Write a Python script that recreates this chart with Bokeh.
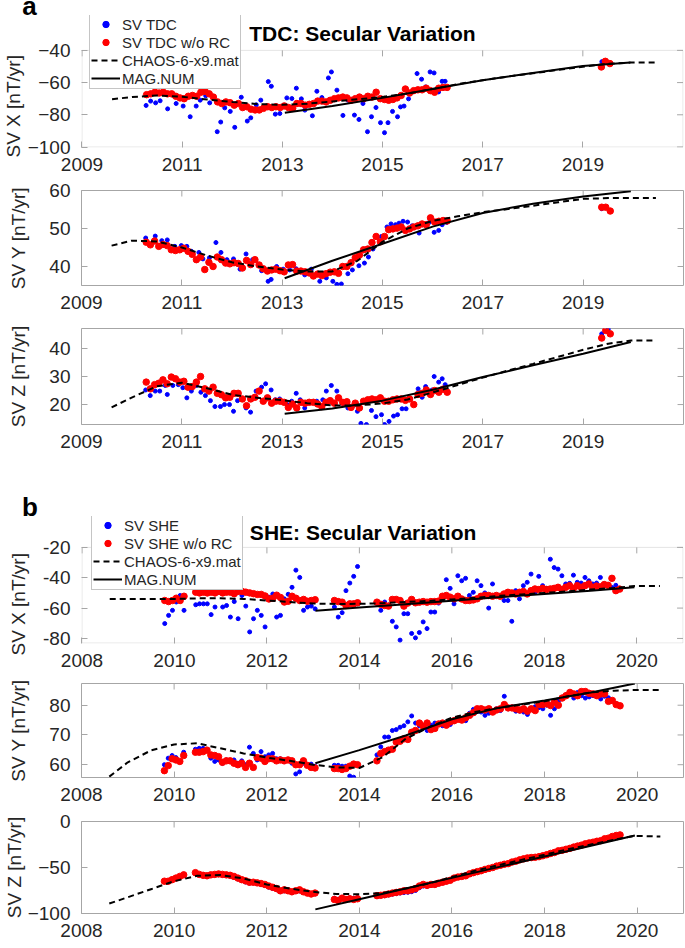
import numpy as np
from bokeh.plotting import figure
from bokeh.models import (Range1d, FixedTicker, LinearAxis, Legend, LegendItem, Label,
                          BoxAnnotation, Title)
from bokeh.layouts import column
from bokeh.embed import file_html
from bokeh.resources import INLINE

FONT = "Liberation Sans"
GRAY = "#a6a6a6"
TXT = "#262626"
W = 684
LEFT = 76
RIGHT = 1
FRAME_W = W - LEFT - RIGHT
NB = "\u00a0"


def months(start, n):
    return [round(start + k / 12.0, 3) for k in range(n)]

# ======================= TDC (panel a) =======================
tdc_xticks = [2009, 2011, 2013, 2015, 2017, 2019]
tdc_red_t = months(2010.29, 73) + [2019.37, 2019.45, 2019.54]

tdc_x_red = [-67.5, -67.0, -66.0, -66.5, -66.0, -67.0, -67.0, -68.5, -69.5, -70.0, -68.5, -68.0,
             -68.5, -66.0, -65.5, -67.0, -69.0, -72.0, -73.0, -72.0, -72.5, -74.0, -73.0, -75.5,
             -75.0, -76.5, -77.0, -77.0, -76.0, -75.0, -75.5, -75.0, -75.5, -74.5, -75.5, -76.0,
             -73.0, -73.0, -74.0, -73.5, -73.0, -71.5, -71.5, -72.0, -71.0, -70.0, -69.5, -69.0,
             -69.5, -71.0, -70.0, -69.0, -70.0, -68.5, -69.0, -66.0, -70.0, -70.5, -71.0, -70.5,
             -69.5, -68.0, -64.0, -66.5, -65.0, -64.5, -64.5, -63.5, -65.0, -66.0, -63.5, -63.0,
             -63.0, -50.3, -46.8, -48.2]
tdc_y_red = [46.4, 45.7, 46.7, 45.3, 45.8, 45.5, 44.4, 44.2, 44.4, 44.8, 44.0, 43.2,
             41.8, 42.5, 39.2, 41.1, 40.0, 42.5, 41.8, 40.9, 40.7, 41.0, 40.8, 39.6,
             41.6, 40.5, 41.8, 40.4, 39.4, 38.8, 39.1, 39.3, 38.9, 38.6, 40.4, 40.5,
             38.8, 38.8, 38.6, 38.3, 37.5, 38.0, 37.6, 38.1, 38.5, 38.6, 38.2, 40.0,
             40.0, 41.0, 42.3, 43.0, 44.4, 44.6, 46.3, 47.9, 46.5, 47.9, 49.7, 49.9,
             50.1, 50.4, 49.5, 49.9, 50.4, 50.7, 51.2, 51.0, 52.8, 51.7, 51.9, 52.1,
             52.0, 55.6, 55.6, 54.6]
tdc_z_red = [28.0, 25.6, 27.1, 27.6, 28.8, 27.4, 29.8, 29.2, 28.0, 28.3, 26.2, 26.4,
             28.0, 30.0, 25.6, 24.8, 26.2, 24.0, 23.5, 22.4, 22.6, 24.0, 24.0, 22.0,
             19.6, 22.0, 22.6, 24.8, 21.2, 22.4, 20.5, 21.2, 21.2, 20.8, 19.0, 20.2,
             18.8, 20.8, 20.5, 20.8, 20.8, 20.2, 19.3, 20.8, 21.4, 20.5, 22.4, 20.8,
             21.0, 19.0, 20.5, 18.8, 21.2, 21.7, 22.0, 21.7, 22.4, 21.2, 21.2, 21.7,
             22.0, 22.0, 21.5, 22.0, 20.0, 23.6, 24.0, 25.2, 23.6, 25.0, 24.4, 25.5,
             24.4, 43.7, 46.4, 45.2]

tdc_x_blue_t = [2010.28, 2010.37, 2010.47, 2010.56, 2010.71, 2010.88, 2011.02, 2011.16, 2011.28, 2011.36,
                2011.47, 2011.55, 2011.70, 2011.77, 2011.85, 2011.96, 2012.05, 2012.18, 2012.30, 2012.37,
                2012.48, 2012.57, 2012.72, 2012.78, 2012.86, 2012.95, 2013.09, 2013.19, 2013.28, 2013.38,
                2013.45, 2013.60, 2013.69, 2013.79, 2013.92, 2013.98, 2014.09, 2014.21, 2014.31, 2014.44,
                2014.53, 2014.61, 2014.70, 2014.78, 2014.87, 2014.96, 2015.04, 2015.11, 2015.20, 2015.30,
                2015.36, 2015.43, 2015.52, 2015.69, 2015.78, 2015.86, 2015.95, 2016.03, 2016.12, 2016.19,
                2016.25, 2019.38]
tdc_x_blue = [-74.2, -71.5, -72.6, -71.3, -76.3, -73.0, -74.6, -81.2, -74.6, -70.9,
              -68.2, -72.6, -90.5, -84.5, -75.7, -77.9, -87.8, -69.1, -83.9, -81.9,
              -73.8, -70.9, -59.4, -62.3, -79.6, -79.2, -69.5, -69.9, -63.5, -70.1,
              -77.1, -80.6, -65.4, -69.3, -57.1, -53.4, -64.7, -80.4, -70.9, -80.2,
              -82.9, -73.0, -90.5, -81.2, -75.5, -84.9, -91.1, -84.9, -77.9, -81.2,
              -75.1, -74.6, -70.1, -54.4, -57.9, -62.7, -53.4, -54.0, -65.8, -59.2,
              -59.2, -47.0]
tdc_y_blue_t = [2010.28, 2010.47, 2010.60, 2010.71, 2010.86, 2010.99, 2011.10, 2011.19, 2011.34, 2011.42,
                2011.55, 2011.68, 2011.78, 2011.90, 2012.03, 2012.16, 2012.28, 2012.41, 2012.59, 2012.72,
                2012.78, 2012.89, 2013.02, 2013.15, 2013.28, 2013.45, 2013.58, 2013.75, 2013.88, 2014.01,
                2014.09, 2014.18, 2014.31, 2014.40, 2014.53, 2014.64, 2014.72, 2014.81, 2014.90, 2014.98,
                2015.09, 2015.17, 2015.26, 2015.33, 2015.41, 2015.50, 2015.59, 2015.67, 2015.73, 2015.84,
                2015.93, 2016.03, 2016.12, 2016.19, 2016.28, 2019.37]
tdc_y_blue = [47.5, 48.0, 46.8, 47.0, 45.3, 45.5, 45.3, 44.0, 43.7, 42.0,
              42.3, 46.3, 43.7, 41.8, 42.0, 39.3, 43.3, 41.8, 38.9, 36.1,
              36.6, 40.0, 39.3, 39.1, 39.4, 37.8, 39.3, 36.1, 37.0, 36.1,
              35.3, 35.4, 38.1, 39.1, 40.2, 40.9, 42.5, 44.6, 47.7, 47.9,
              50.4, 51.2, 51.0, 51.4, 51.9, 51.7, 50.7, 50.5, 48.8, 51.0,
              51.6, 49.0, 49.5, 51.0, 51.6, 55.2]
tdc_z_blue_t = [2010.28, 2010.37, 2010.47, 2010.56, 2010.67, 2010.71, 2010.82, 2010.93, 2011.02, 2011.10,
                2011.19, 2011.29, 2011.38, 2011.47, 2011.57, 2011.66, 2011.77, 2011.85, 2011.95, 2012.03,
                2012.11, 2012.20, 2012.28, 2012.37, 2012.48, 2012.59, 2012.67, 2012.78, 2012.86, 2012.95,
                2013.09, 2013.19, 2013.28, 2013.36, 2013.45, 2013.58, 2013.69, 2013.81, 2013.88, 2013.98,
                2014.09, 2014.22, 2014.31, 2014.40, 2014.50, 2014.57, 2014.68, 2014.78, 2014.87, 2014.98,
                2015.04, 2015.13, 2015.22, 2015.30, 2015.39, 2015.47, 2015.56, 2015.71, 2015.79, 2015.86,
                2015.99, 2016.03, 2016.12, 2016.19, 2016.25, 2019.37, 2019.50]
tdc_z_blue = [25.2, 23.2, 24.8, 24.8, 26.8, 23.6, 26.8, 27.1, 26.0, 22.4,
              24.8, 26.8, 24.4, 23.2, 21.4, 19.3, 19.3, 20.0, 20.0, 17.6,
              21.4, 22.0, 18.8, 17.3, 24.8, 26.2, 27.4, 25.2, 21.7, 22.0,
              20.2, 21.2, 24.0, 21.7, 18.8, 20.8, 21.2, 21.7, 24.8, 26.8,
              24.8, 20.2, 18.8, 19.3, 17.6, 13.3, 12.9, 17.9, 15.7, 16.4,
              12.9, 14.0, 15.9, 16.4, 18.5, 18.5, 22.0, 25.6, 22.6, 26.4,
              25.2, 30.0, 28.0, 29.2, 27.1, 45.2, 46.9]

tdc_chaos_t = [2009.6, 2010.0, 2010.5, 2011.0, 2011.5, 2012.0, 2012.5, 2013.0, 2013.5, 2014.0, 2014.5,
               2015.0, 2015.5, 2016.0, 2016.5, 2017.0, 2017.5, 2018.0, 2018.5, 2019.0, 2019.5, 2019.95, 2020.45]
tdc_chaos_x = [-70.3, -69.0, -68.0, -68.8, -70.5, -72.0, -73.3, -73.8, -73.1, -71.7, -70.4,
               -68.9, -66.8, -64.0, -61.0, -58.5, -56.3, -54.2, -52.2, -50.2, -48.3, -47.6, -47.6]
tdc_chaos_y = [45.5, 46.8, 46.6, 45.0, 42.9, 41.1, 40.0, 39.2, 38.7, 38.7, 41.5,
               46.5, 50.0, 52.0, 53.2, 54.3, 55.1, 56.0, 56.9, 57.8, 58.0, 58.0, 58.0]
tdc_chaos_z = [19.0, 22.5, 26.5, 27.8, 25.8, 23.5, 22.4, 21.6, 20.5, 19.7, 19.7,
               20.4, 21.8, 24.3, 27.0, 29.6, 32.1, 34.5, 37.0, 39.5, 41.7, 42.8, 42.8]

tdc_mag_t = [2013.05, 2014.0, 2015.0, 2016.0, 2017.0, 2018.0, 2019.0, 2019.95]
tdc_mag_x = [-78.8, -74.5, -69.5, -64.0, -58.6, -54.0, -49.7, -47.6]
tdc_mag_y = [36.9, 41.5, 46.0, 50.5, 54.1, 56.5, 58.4, 59.8]
tdc_mag_z = [16.7, 18.6, 21.4, 25.3, 29.8, 34.0, 38.1, 42.3]

# ======================= SHE (panel b) =======================
she_xticks = [2008, 2010, 2012, 2014, 2016, 2018, 2020]
she_t = months(2009.79, 6) + months(2010.46, 32) + months(2013.46, 7) + months(2014.38, 64)

she_x_red = ([-55.0, -55.7, -55.0, -53.5, -55.0, -52.2]
             + [-49.5, -50.0, -49.5, -50.0, -49.5, -50.0, -49.0, -50.0, -49.5, -49.5, -50.5, -49.0,
                -49.0, -49.5, -50.0, -50.5, -51.0, -51.0, -52.0, -54.0, -53.5, -51.5, -53.0, -56.0,
                -55.5, -52.2, -53.5, -55.0, -54.3, -55.5, -55.0, -54.5]
             + [-55.0, -55.7, -56.1, -58.3, -57.2, -57.2, -56.5]
             + [-56.1, -57.5, -58.3, -58.7, -54.3, -54.3, -55.0, -58.7,
                -56.7, -54.3, -56.5, -56.1, -55.7, -56.1, -55.7, -55.7, -55.4, -52.2, -51.7, -52.8,
                -53.9, -52.2, -54.0, -55.0, -55.0, -54.6, -53.9, -52.2, -51.7, -51.7, -52.2, -51.7,
                -52.2, -50.7, -49.6, -50.0, -50.7, -49.6, -49.1, -50.7, -48.5, -47.4, -47.8, -47.0,
                -47.8, -47.4, -47.0, -46.3, -47.8, -46.3, -45.2, -47.0, -45.2, -46.3, -45.2, -44.1,
                -46.3, -45.5, -46.0, -44.5, -45.0, -40.4, -48.5, -47.5])
she_x_blue = ([-70.2, -64.8, -61.5, -56.0, -51.7, -61.5]
              + [-57.8, -57.2, -57.2, -57.2, -64.3, -59.3, -49.5, -59.3, -58.3, -65.9, -55.7, -67.0,
                 -51.7, -58.7, -75.7, -67.0, -61.5, -64.8, -72.4, -52.8, -50.7, -65.9, -64.8, -53.9,
                 -50.9, -46.3, -35.0, -39.8, -61.5, -59.3, -58.7, -60.5]
              + [-59.3, -65.9, -63.0, -48.5, -43.5, -39.1, -32.6]
              + [-56.7, -61.5, -56.0, -58.0, -68.7, -72.4, -81.1, -63.7,
                 -63.7, -76.7, -79.6, -76.1, -69.1, -73.5, -62.6, -62.6, -56.7, -53.9, -41.3, -47.0,
                 -57.2, -38.7, -42.0, -40.4, -51.7, -49.6, -42.0, -45.2, -50.0, -60.0, -44.1, -51.7,
                 -51.7, -55.0, -55.0, -68.7, -48.5, -53.9, -45.2, -43.0, -37.6, -49.6, -39.1, -45.2,
                 -47.0, -27.8, -33.3, -34.3, -38.7, -44.1, -43.7, -38.3, -43.0, -43.5, -39.8, -42.0,
                 -44.1, -43.5, -39.8, -44.1, -45.2, -46.5, -45.0, -47.0])

she_y_red = ([58.0, 59.7, 62.0, 61.6, 61.1, 63.1]
             + [64.2, 64.2, 64.4, 64.9, 63.3, 63.1, 62.7, 60.8, 61.3, 61.3, 60.5, 60.0,
                60.5, 59.1, 60.5, 59.1, 62.4, 62.2, 61.1, 62.0, 62.0, 61.3, 61.6, 61.3,
                61.6, 61.3, 60.0, 60.0, 61.3, 59.8, 59.1, 58.9]
             + [58.7, 58.7, 58.4, 58.7, 59.5, 60.2, 60.0]
             + [61.3, 63.8, 64.4, 64.9, 65.2, 67.6, 67.9, 68.7,
                68.5, 70.9, 71.5, 74.0, 72.9, 74.0, 71.8, 72.2, 73.7, 74.0, 73.3, 74.4,
                74.8, 75.3, 75.0, 75.8, 76.6, 77.5, 78.8, 78.8, 78.4, 78.8, 77.7, 78.4,
                78.8, 80.2, 79.1, 79.1, 78.8, 78.4, 78.8, 78.0, 78.8, 78.2, 80.2, 80.2,
                80.5, 79.9, 81.0, 80.0, 82.4, 83.2, 84.3, 83.8, 83.2, 84.6, 84.6, 84.0,
                83.8, 83.2, 83.8, 83.8, 81.3, 81.6, 80.2, 79.8])
she_y_blue = ([60.0, 62.2, 63.1, 62.4, 61.1, 64.2]
              + [65.2, 65.5, 65.5, 64.9, 62.2, 61.1, 61.6, 60.5, 61.6, 61.1, 61.6, 60.5,
                 61.3, 60.0, 65.9, 63.8, 61.6, 64.4, 62.7, 63.3, 63.8, 62.0, 62.0, 61.1,
                 61.5, 60.5, 56.9, 57.6, 60.5, 59.8, 60.2, 59.5]
              + [59.8, 59.8, 59.5, 59.5, 56.2, 55.8, 60.0]
              + [63.3, 66.0, 69.3, 69.3, 71.5, 71.8, 72.6, 73.1,
                 74.4, 76.4, 74.0, 73.1, 72.9, 71.5, 73.3, 74.0, 73.7, 73.1, 74.0, 73.5,
                 74.5, 75.5, 75.3, 74.8, 77.3, 78.6, 78.0, 77.7, 76.6, 77.3, 78.0, 78.8,
                 78.2, 83.0, 78.8, 79.4, 78.0, 78.0, 77.7, 76.9, 78.8, 79.5, 79.2, 78.8,
                 80.0, 76.6, 78.8, 81.3, 82.7, 83.5, 83.5, 82.4, 84.3, 83.2, 82.4, 82.8,
                 83.2, 83.8, 82.1, 83.0, 82.5, 81.5, 80.5, 79.7])

she_z_red = ([-64.9, -64.9, -63.2, -61.5, -59.7, -58.0]
             + [-55.6, -57.5, -58.5, -59.0, -58.0, -57.5, -57.0, -57.5, -58.0, -58.5, -59.7, -61.5,
                -63.2, -64.5, -66.0, -66.0, -66.7, -67.4, -68.4, -70.1, -71.5, -72.9, -75.3, -74.3,
                -75.3, -76.4, -75.3, -74.3, -76.4, -77.8, -78.8, -77.8]
             + [-84.7, -85.8, -83.3, -84.7, -84.0, -84.7, -84.0]
             + [-80.6, -80.2, -79.6, -78.8, -77.8, -77.1, -76.4, -75.3,
                -75.3, -74.3, -72.9, -70.1, -68.4, -69.4, -68.4, -68.4, -67.0, -66.0, -64.9, -63.9,
                -61.5, -60.4, -59.7, -59.0, -56.9, -55.6, -54.5, -53.5, -52.1, -51.0, -50.0, -48.5,
                -47.6, -46.5, -45.8, -44.1, -43.1, -41.7, -40.6, -39.6, -39.2, -38.9, -38.2, -37.2,
                -36.1, -34.7, -33.7, -31.9, -31.3, -30.2, -29.2, -27.8, -26.7, -25.7, -24.3, -23.3,
                -22.5, -21.5, -20.8, -18.8, -18.1, -16.3, -15.2, -14.6])
she_z_blue = ([-65.5, -65.5, -64.0, -62.0, -60.5, -58.5]
              + [-56.5, -58.3, -59.2, -59.5, -58.8, -58.2, -57.8, -58.3, -58.8, -59.5, -60.8, -62.5,
                 -64.2, -65.8, -67.0, -66.8, -67.5, -68.4, -69.6, -71.4, -72.8, -74.0, -76.2, -75.4,
                 -76.2, -77.2, -76.0, -75.5, -77.2, -78.5, -79.4, -78.6]
              + [-83.5, -84.5, -82.5, -83.8, -83.0, -83.5, -82.8]
              + [-81.5, -81.0, -80.6, -79.8, -79.0, -78.4, -77.8, -77.3,
                 -77.0, -76.3, -75.0, -72.0, -70.2, -70.5, -69.6, -69.2, -68.0, -66.8, -65.6, -64.3,
                 -62.3, -61.0, -60.2, -59.4, -57.5, -56.0, -54.8, -53.9, -52.7, -51.5, -50.4, -49.0,
                 -47.8, -46.9, -46.0, -44.6, -43.5, -42.1, -41.2, -40.0, -39.6, -39.3, -38.5, -37.6,
                 -36.5, -35.0, -33.0, -32.3, -31.6, -30.6, -29.6, -28.3, -27.2, -26.1, -24.8, -23.7,
                 -22.9, -21.9, -21.2, -19.5, -18.6, -16.9, -15.8, -15.2])

she_chaos_t = [2008.6, 2009.0, 2009.5, 2010.0, 2010.5, 2011.0, 2011.5, 2012.0, 2012.5, 2013.0, 2013.5,
               2014.0, 2014.5, 2015.0, 2015.5, 2016.0, 2016.5, 2017.0, 2017.5, 2018.0, 2018.5, 2019.0,
               2019.5, 2019.95, 2020.5]
she_chaos_x = [-54.0, -54.0, -54.0, -54.0, -53.6, -53.5, -54.0, -55.0, -56.0, -57.0, -57.3,
               -57.2, -56.8, -56.0, -55.3, -54.3, -53.2, -52.0, -51.0, -50.0, -49.0, -47.8,
               -46.8, -45.5, -45.5]
she_chaos_y = [56.0, 60.8, 64.8, 66.8, 67.2, 65.5, 63.8, 62.4, 61.3, 60.0, 59.1,
               58.9, 62.5, 68.7, 72.6, 75.8, 77.7, 79.1, 80.2, 81.3, 83.0, 84.3,
               84.9, 85.1, 85.1]
she_chaos_z = [-89.2, -82.3, -73.6, -64.9, -59.0, -58.2, -62.0, -68.4, -72.9, -76.4, -78.8,
               -79.0, -77.8, -72.9, -67.4, -60.4, -53.5, -47.6, -41.7, -36.1, -30.2, -25.0,
               -19.8, -15.6, -16.3]

she_mag_t = [2013.05, 2014.0, 2015.0, 2016.0, 2017.0, 2018.0, 2019.0, 2019.95]
she_mag_x = [-61.7, -59.6, -57.4, -55.2, -52.9, -50.7, -48.5, -46.3]
she_mag_y = [60.5, 64.9, 69.8, 75.3, 79.1, 81.6, 84.3, 87.3]
she_mag_z = [-95.5, -84.5, -72.9, -61.3, -49.6, -38.0, -26.4, -15.3]

assert len(tdc_red_t) == len(tdc_x_red) == len(tdc_y_red) == len(tdc_z_red)
assert len(tdc_x_blue_t) == len(tdc_x_blue)
assert len(tdc_y_blue_t) == len(tdc_y_blue)
assert len(tdc_z_blue_t) == len(tdc_z_blue)
assert len(she_t) == len(she_x_red) == len(she_x_blue) == len(she_y_red) == len(she_y_blue) \
    == len(she_z_red) == len(she_z_blue)

TICK_PX = 6
XLAB_STANDOFF = 10
YLAB_STANDOFF = 11


def base_fig(height, top, bottom, xr, yr, left=LEFT, right=RIGHT):
    p = figure(width=W, height=height, x_range=Range1d(*xr), y_range=Range1d(*yr),
               output_backend="svg", toolbar_location=None, tools="",
               x_axis_location=None, y_axis_location=None,
               min_border_top=top, min_border_bottom=bottom,
               min_border_left=left, min_border_right=right,
               background_fill_color="white", border_fill_color="white")
    p.xgrid.visible = False
    p.ygrid.visible = False
    return p


def make_panel(height, top, bottom, xr, yr, box, xt, yt, ylabel, lab_off=0, title_off=None,
               ytick_labels=None):
    """box = (x0, x1, y0, y1): the visible axes box; the frame may extend above it."""
    p = base_fig(height, top, bottom, xr, yr)
    x0, x1, y0, y1 = box
    extended = (yr[1] != y1)
    if extended:
        p.outline_line_color = None
        p.add_layout(BoxAnnotation(left=x0, right=x1, bottom=y0, top=y1, fill_alpha=0,
                                   line_color=GRAY, line_width=1))
    else:
        p.outline_line_color = GRAY
        p.outline_line_width = 1
    for loc in ("below", "left"):
        ticks = xt if loc == "below" else yt
        ax = LinearAxis(ticker=FixedTicker(ticks=ticks, minor_ticks=[]))
        ax.axis_line_color = None
        ax.major_tick_in = TICK_PX
        ax.major_tick_out = 0
        ax.major_tick_line_color = GRAY
        ax.minor_tick_line_color = None
        ax.major_label_text_font = FONT
        ax.major_label_text_color = TXT
        ax.major_label_text_font_size = "19px"
        ax.major_label_standoff = XLAB_STANDOFF if loc == "below" else YLAB_STANDOFF
        if loc == "left":
            if ytick_labels is not None:
                ax.major_label_overrides = ytick_labels
            if title_off is None:
                ax.axis_label = ylabel
                ax.axis_label_text_font = FONT
                ax.axis_label_text_font_size = "19px"
                ax.axis_label_text_font_style = "normal"
                ax.axis_label_text_color = TXT
                ax.axis_label_standoff = lab_off
        p.add_layout(ax, loc)
    if title_off is not None:
        p.add_layout(Title(text=ylabel, align="left", vertical_align="middle", offset=title_off,
                           standoff=0, text_font=FONT, text_font_size="19px",
                           text_font_style="normal", text_color=TXT), "left")
    # mirrored inward ticks on the top and right edges of the box
    frame_h = height - top - bottom
    dy = TICK_PX * (yr[1] - yr[0]) / frame_h
    dx = TICK_PX * (xr[1] - xr[0]) / FRAME_W
    p.segment(x0=xt, y0=[y1] * len(xt), x1=xt, y1=[y1 - dy] * len(xt),
              line_color=GRAY, line_width=1)
    p.segment(x0=[x1] * len(yt), y0=yt, x1=[x1 - dx] * len(yt), y1=yt,
              line_color=GRAY, line_width=1)
    return p


def draw(p, bt, bv, rt, rv, ct, cv, mt, mv):
    rb = p.scatter(bt, bv, size=4, color="#0000ff", marker="circle")
    rr = p.scatter(rt, rv, size=6.5, color="#ff0000", marker="circle")
    rc = p.line(ct, cv, line_color="black", line_width=2, line_dash="6 4")
    rm = p.line(mt, mv, line_color="black", line_width=2)
    return rb, rr, rc, rm


def add_legend(p, rends, names, loc):
    items = [LegendItem(label=n, renderers=[r]) for n, r in zip(names, rends)]
    leg = Legend(items=items, location=loc, orientation="vertical",
                 label_text_font=FONT, label_text_font_size="15px", label_text_color=TXT,
                 border_line_color="#8c8c8c", border_line_width=1,
                 background_fill_color="white", background_fill_alpha=1.0,
                 padding=1, spacing=1, margin=0, glyph_width=29, glyph_height=16,
                 label_height=16, label_standoff=2)
    p.add_layout(leg)


def header(height, letter, x, y, size):
    """Thin full-width strip holding the bold panel letter."""
    h = base_fig(height, 0, 0, (0, W), (0, height), left=0, right=0)
    h.frame_align = False
    h.outline_line_color = None
    h.add_layout(Label(x=x, y=y, text=letter, text_font=FONT, text_font_size=size,
                       text_font_style="bold", text_align="center", text_baseline="alphabetic",
                       text_color="black"))
    return h


def title_label(x, y, text):
    return Label(x=x, y=y, text=text, text_font=FONT, text_font_size="21px",
                 text_font_style="bold", text_align="center", text_baseline="alphabetic",
                 text_color="black")


# ---------- panel a ----------
ha = header(15, "a", 29, 9.5, "26px")

pad_a = 0.5 * 12 / FRAME_W
ua = 60 / 97.0
a1 = make_panel(164, 0, 32, (2009 - pad_a, 2021 + pad_a), (-100 - 0.5 * ua, -40 + 35 * ua),
                (2009, 2021, -100, -40), tdc_xticks, [-100, -80, -60, -40],
                "SV X [nT/yr]", title_off=-10)
r = draw(a1, tdc_x_blue_t, tdc_x_blue, tdc_red_t, tdc_x_red, tdc_chaos_t, tdc_chaos_x, tdc_mag_t, tdc_mag_x)
add_legend(a1, r, ["SV TDC", "SV TDC w/o RC", "CHAOS-6-x9.mat", "MAG.NUM"], (8, 58.5))
a1.add_layout(title_label(2014.6, -40 + 17.3 * ua, "TDC: Secular Variation"))

a2 = make_panel(139, 11, 33, (2009, 2021), (35, 60), (2009, 2021, 35, 60),
                tdc_xticks, [40, 50, 60], "SV Y [nT/yr]", lab_off=17)
draw(a2, tdc_y_blue_t, tdc_y_blue, tdc_red_t, tdc_y_red, tdc_chaos_t, tdc_chaos_y, tdc_mag_t, tdc_mag_y)

a3 = make_panel(177, 10, 71, (2009, 2021), (12.9, 47.1), (2009, 2021, 12.9, 47.1),
                tdc_xticks, [20, 30, 40], "SV Z [nT/yr]", lab_off=17)
draw(a3, tdc_z_blue_t, tdc_z_blue, tdc_red_t, tdc_z_red, tdc_chaos_t, tdc_chaos_z, tdc_mag_t, tdc_mag_z)

# ---------- panel b ----------
hb = header(21, "b", 29.5, 10, "26px")

pad_b = 0.5 * 13 / FRAME_W
ub = 63 / 96.0
b1_yt = [-80, -60, -40, -20]
b1 = make_panel(160, 0, 33, (2008 - pad_b, 2021 + pad_b), (-83 - 0.5 * ub, -20 + 31 * ub),
                (2008, 2021, -83, -20), she_xticks, b1_yt,
                "SV X [nT/yr]", title_off=-12,
                ytick_labels={v: NB * 2 + str(v) for v in b1_yt})
r = draw(b1, she_t, she_x_blue, she_t, she_x_red, she_chaos_t, she_chaos_x, she_mag_t, she_mag_x)
add_legend(b1, r, ["SV SHE", "SV SHE w/o RC", "CHAOS-6-x9.mat", "MAG.NUM"], (10, 53.5))
b1.add_layout(title_label(2014.08, -20 + 15.3 * ub, "SHE: Secular Variation"))

b2 = make_panel(134, 7, 33, (2008, 2021), (55.7, 87.3), (2008, 2021, 55.7, 87.3),
                she_xticks, [60, 70, 80], "SV Y [nT/yr]", lab_off=17)
draw(b2, she_t, she_y_blue, she_t, she_y_red, she_chaos_t, she_chaos_y, she_mag_t, she_mag_y)

b3 = make_panel(136, 11, 33, (2008, 2021), (-100, 0), (2008, 2021, -100, 0),
                she_xticks, [-100, -50, 0], "SV Z [nT/yr]", lab_off=0)
draw(b3, she_t, she_z_blue, she_t, she_z_red, she_chaos_t, she_chaos_z, she_mag_t, she_mag_z)

layout = column(ha, a1, a2, a3, hb, b1, b2, b3, spacing=0)
open("out.html", "w").write(file_html(layout, INLINE, title="Secular Variation"))
